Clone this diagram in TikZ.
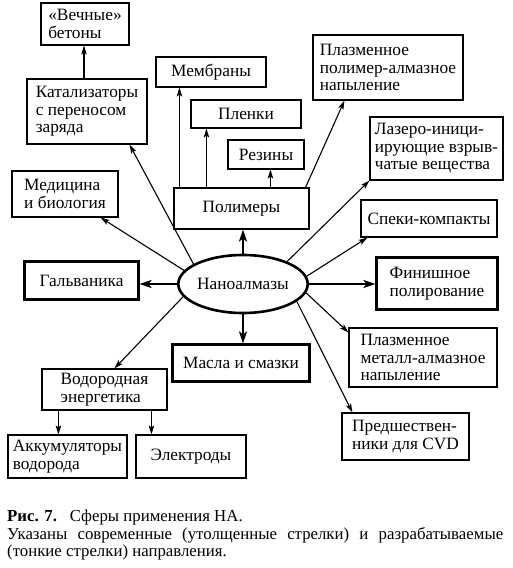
\documentclass[tikz,border=0pt]{standalone}
\usepackage{fontspec}
\setmainfont{Liberation Serif}
\usetikzlibrary{arrows.meta,shapes.geometric}
\begin{document}
\begin{tikzpicture}[x=1pt,y=-1pt,
  boxfont/.style={font=\fontsize{17.3}{17.5}\selectfont},
  box/.style={draw, line width=1.1pt, fill=white, inner sep=0pt, align=left, boxfont},
  heavybox/.style={box, draw=none},
  heavyline/.style={line width=2.8pt, line join=miter},
  thinarrow/.style={line width=1.1pt, -{Stealth[length=9pt,width=5.5pt,inset=2pt]}},
  thickarrow/.style={line width=2.6pt, -{Stealth[length=12pt,width=8pt,inset=3pt]}},
]
\useasboundingbox (0,0) rectangle (513,568);

% nodes
\node[box, minimum width=88pt, minimum height=42pt] (vech) at (85,24) {«Вечные»\\бетоны};
\node[box, minimum width=120pt, minimum height=65pt] (kat) at (87,111.5) {Катализаторы\\с переносом\\заряда};
\node[box, minimum width=110pt, minimum height=30pt] (memb) at (211,72) {Мембраны};
\node[box, minimum width=110pt, minimum height=28pt] (plen) at (246,114) {Пленки};
\node[box, minimum width=76pt, minimum height=29pt] (rez) at (266,154.5) {Резины};
\node[box, minimum width=135pt, minimum height=41pt] (pol) at (241.5,208.5) {Полимеры};
\node[box, minimum width=106pt, minimum height=46pt] (med) at (65,194) {Медицина\\и биология};
\node[box, minimum width=150pt, minimum height=65pt] (pp) at (388,67.5) {Плазменное\\полимер-алмазное\\напыление};
\node[box, minimum width=133pt, minimum height=63pt] (lazer) at (436.5,148.5) {Лазеро-иници-\\ирующие взрыв-\\чатые вещества};
\node[box, minimum width=136pt, minimum height=37pt] (speki) at (429,218.5) {Спеки-компакты};
\node[heavybox, minimum width=113pt, minimum height=37pt] (galv) at (81.5,280.5) {Гальваника};
\node[draw, ellipse, line width=2.6pt, inner sep=0pt, minimum width=112pt, minimum height=58pt,
  boxfont] (nano) at (243,284) {Наноалмазы};
\node[heavybox, minimum width=120pt, minimum height=51pt] (fin) at (437,283.5) {Финишное\\полирование};
\node[heavybox, minimum width=136pt, minimum height=36pt] (masla) at (241,363) {Масла и смазки};
\node[box, minimum width=148pt, minimum height=59pt] (pmet) at (423,357.5) {Плазменное\\металл-алмазное\\напыление};
\node[box, minimum width=125pt, minimum height=41pt] (vod) at (104.5,389.5) {Водородная\\энергетика};
\node[box, minimum width=127pt, minimum height=47pt] (pred) at (405.5,436.5) {Предшествен-\\ники для CVD};
\node[box, minimum width=119pt, minimum height=43pt] (akk) at (67.5,456.5) {Аккумуляторы\\водорода};
\node[box, minimum width=110pt, minimum height=43pt] (elek) at (191,456.5) {Электроды};

% heavy frames
\draw[heavyline] (galv.south west) rectangle (galv.north east);
\draw[heavyline] (fin.south west) rectangle (fin.north east);
\draw[heavyline] (masla.south west) rectangle (masla.north east);

% thick arrows
\draw[thickarrow] (nano.north) -- (nano.north |- pol.south);
\draw[thickarrow] (nano.south) -- ([yshift=1pt]nano.south |- masla.north);
\draw[thickarrow] (nano.west) -- ([xshift=1pt]nano.west -| galv.east);
\draw[thickarrow] (nano.east) -- ([xshift=-1pt]nano.east -| fin.west);

% thin arrows from nanodiamonds
\draw[thinarrow] (nano.167) -- ([xshift=-18pt]med.south east);
\draw[thinarrow] (nano.158) -- ([xshift=-18pt]kat.south east);
\draw[thinarrow] (nano.27) -- (lazer.south west);
\draw[thinarrow] (nano.7) -- ([xshift=7pt]speki.south west);
\draw[thinarrow] (nano.-8) -- ([yshift=-5pt]pmet.north west);
\draw[thinarrow] (nano.-18) -- ([xshift=11pt]pred.north west);
\draw[thinarrow] (nano.192) -- ([xshift=73pt]vod.north west);

% polymers
\draw[thinarrow] ([xshift=6pt]pol.north west) -- ([xshift=6pt]pol.north west |- memb.south);
\draw[thinarrow] ([xshift=33pt]pol.north west) -- ([xshift=33pt]pol.north west |- plen.south);
\draw[thinarrow] ([xshift=97pt]pol.north west) -- ([xshift=97pt]pol.north west |- rez.south);
\draw[thinarrow] ([xshift=-4pt]pol.north east) -- ([xshift=32pt]pp.south west);

% catalysts
\draw[thinarrow] ([xshift=-3pt]kat.north) -- ([xshift=-3pt]kat.north |- vech.south);

% hydrogen
\draw[thinarrow] ([xshift=17pt]vod.south west) -- ([xshift=17pt]vod.south west |- akk.north);
\draw[thinarrow] ([xshift=110pt]vod.south west) -- ([xshift=110pt]vod.south west |- elek.north);

% caption
\node[anchor=north west, inner sep=0pt, align=left, font=\fontsize{16.8}{17.5}\selectfont] (cap) at (7,510)
  {\textbf{Рис. 7.}\hspace{13pt}Сферы применения НА.\\
   \makebox[496pt][s]{Указаны современные (утолщенные стрелки) и разрабатываемые}\\
   (тонкие стрелки) направления.};
\end{tikzpicture}
\end{document}
